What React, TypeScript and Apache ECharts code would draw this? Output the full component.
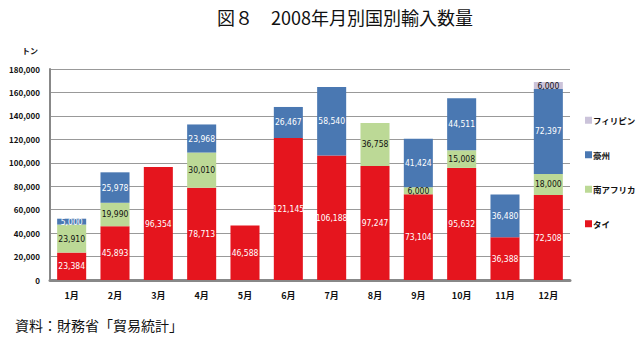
import React, { useEffect, useRef } from "react";
import * as echarts from "echarts";

const months = ["1月", "2月", "3月", "4月", "5月", "6月", "7月", "8月", "9月", "10月", "11月", "12月"];
const thai = [23384, 45893, 96354, 78713, 46588, 121145, 106188, 97247, 73104, 95632, 36388, 72508];
const southAfrica = [23910, 19990, null, 30010, null, null, null, 36758, 6000, 15008, null, 18000];
const australia = [5000, 25978, null, 23968, null, 26467, 58540, null, 41424, 44511, 36480, 72397];
const philippines = [null, null, null, null, null, null, null, null, null, null, null, 6000];
const yTicks = [0, 20000, 40000, 60000, 80000, 100000, 120000, 140000, 160000, 180000];

const FONT = "'Noto Sans CJK JP', 'Noto Sans', sans-serif";

export default function App() {
  const ref = useRef<HTMLDivElement>(null);
  useEffect(() => {
    if (!ref.current) return;
    const chart = echarts.init(ref.current, undefined, { renderer: "svg" });
    const fmt = (p: any) => (p.value == null ? "" : Number(p.value).toLocaleString("en-US"));
    const mk = (name: string, data: any[], color: string, labelColor: string) => ({
      name,
      type: "bar",
      stack: "total",
      data,
      barWidth: "67%",
      itemStyle: { color },
      label: {
        show: true,
        position: "inside",
        formatter: fmt,
        color: labelColor,
        fontSize: 8.5,
        fontFamily: "'DejaVu Sans Condensed', sans-serif",
      },
    });
    chart.setOption({
      animation: false,
      title: {
        text: "図８　2008年月別国別輸入数量",
        left: 340,
        textAlign: "center",
        top: 3,
        textStyle: { fontFamily: FONT, fontSize: 18, fontWeight: "normal", color: "#111" },
      },
      graphic: [
        { type: "text", left: 22, top: 46, style: { text: "トン", font: `bold 8px ${FONT}`, fill: "#111" } },
        { type: "text", left: 15, top: 318, style: { text: "資料：財務省「貿易統計」", font: `14px ${FONT}`, fill: "#111" } },
      ],
      legend: {
        orient: "vertical",
        left: 580,
        top: 111,
        itemWidth: 7,
        itemHeight: 7,
        itemGap: 26,
        icon: "rect",
        data: ["フィリピン", "豪州", "南アフリカ", "タイ"],
        textStyle: { fontFamily: FONT, fontSize: 8.5, fontWeight: "bold", color: "#111", padding: [0, 0, 0, -4] },
      },
      grid: { left: 50, right: 69, top: 69, bottom: 61 },
      xAxis: {
        type: "category",
        data: months,
        axisLine: { lineStyle: { color: "#888", width: 3 } },
        axisTick: { show: false },
        axisLabel: { fontFamily: FONT, fontSize: 9, fontWeight: "bold", color: "#111", margin: 11 },
      },
      yAxis: {
        type: "value",
        min: 0,
        max: 180000,
        interval: 20000,
        axisLine: { show: true, lineStyle: { color: "#888", width: 2 } },
        axisTick: { show: false },
        splitLine: { lineStyle: { color: "#999", width: 1 } },
        axisLabel: {
          fontFamily: FONT,
          fontSize: 8,
          fontWeight: "bold",
          color: "#111",
          margin: 10,
          formatter: (v: number) => (yTicks.includes(v) ? v.toLocaleString("en-US") : ""),
        },
      },
      series: [
        mk("タイ", thai, "#e5151e", "#fff"),
        mk("南アフリカ", southAfrica, "#bcd996", "#111"),
        mk("豪州", australia, "#4a78b2", "#fff"),
        mk("フィリピン", philippines, "#cbc3da", "#111"),
      ],
    });
    return () => chart.dispose();
  }, []);
  return <div ref={ref} style={{ width: 639, height: 341, position: "absolute", left: 0, top: 0 }} />;
}
